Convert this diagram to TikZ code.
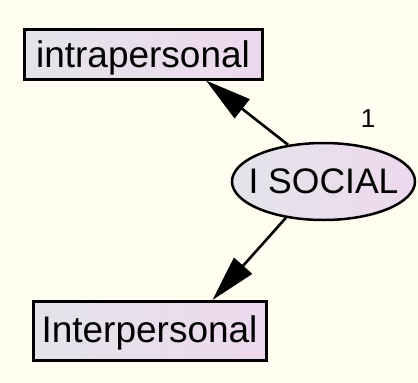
\documentclass[tikz,border=0pt]{standalone}
\usepackage{fontspec}
\setmainfont{Liberation Sans}
\usetikzlibrary{arrows.meta,shapes.geometric,shadings}
\definecolor{paper}{HTML}{FFFEF1}
\definecolor{fillleft}{HTML}{E3E4EA}
\definecolor{fillright}{HTML}{EED8EE}
\begin{document}
\begin{tikzpicture}[x=1pt,y=-1pt,
  observed/.style={rectangle, draw=black, line width=3pt,
    left color=fillleft, right color=fillright, inner sep=0pt,
    font=\fontsize{37}{40}\selectfont, text depth=0pt},
  latent/.style={ellipse, draw=black, line width=2.5pt,
    left color=fillleft, right color=fillright, inner sep=0pt,
    minimum width=183pt, minimum height=77pt,
    font=\fontsize{35.5}{40}\selectfont},
  loading/.style={line width=2.6pt, -{Triangle[length=46pt,width=24pt]}},
  weight/.style={font=\fontsize{26}{30}\selectfont}]
  % canvas
  \fill[paper] (0,0) rectangle (418,383);
  \useasboundingbox (0,0) rectangle (418,383);

  % indicators and factor
  \node[observed, minimum width=238pt, minimum height=50pt, text height=26pt]
    (intra) at (143,54) {intrapersonal};
  \node[observed, minimum width=233pt, minimum height=59pt, text height=22pt]
    (inter) at (149.5,331) {Interpersonal};
  \node[latent] (soc) at (323.5,181.5) {\makebox[0pt]{I SOCIAL}};

  % regression weight label
  \node[weight] (w) at (368,119) {1};

  % factor loadings
  \draw[loading] (soc.134) -- ([xshift=63pt]intra.south);
  \draw[loading] (soc.224) -- ([xshift=63pt]inter.north);
\end{tikzpicture}
\end{document}
